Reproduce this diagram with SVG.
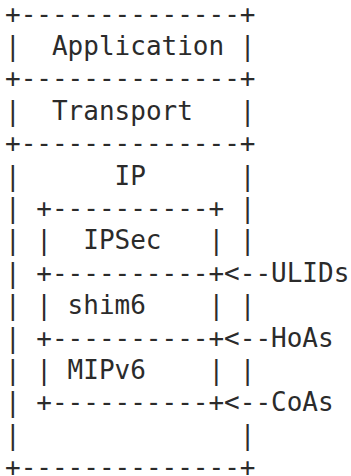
<svg xmlns="http://www.w3.org/2000/svg" width="351" height="476" viewBox="0 0 351 476" xml:space="preserve">
<style>
text { font-family: "DejaVu Sans Mono", "Liberation Mono", monospace; font-size: 26px; fill: #2b2b2b; white-space: pre; }
</style>
<rect width="351" height="476" fill="#ffffff"/>
<g id="application">
<text x="5" y="22.5">+--------------+</text>
<text x="5" y="54.9">|  Application |</text>
</g>
<g id="transport">
<text x="5" y="87.3">+--------------+</text>
<text x="5" y="119.7">|  Transport   |</text>
</g>
<g id="ip">
<text x="5" y="152.1">+--------------+</text>
<text x="5" y="184.5">|      IP      |</text>
<text x="5" y="216.9">|</text><text x="239.75" y="216.9">|</text>
<text x="5" y="249.3">|</text><text x="239.75" y="249.3">|</text>
<text x="5" y="281.7">|</text>
<text x="5" y="314.1">|</text><text x="239.75" y="314.1">|</text>
<text x="5" y="346.5">|</text>
<text x="5" y="378.9">|</text><text x="239.75" y="378.9">|</text>
<text x="5" y="411.3">|</text>
<text x="5" y="443.7">|              |</text>
<text x="5" y="476.1">+--------------+</text>
</g>
<g id="ipsec">
<text x="36.3" y="216.9">+----------+</text>
<text x="36.3" y="249.3">|  IPSec   |</text>
<text x="36.3" y="281.7">+----------+</text>
</g>
<g id="shim6">
<text x="36.3" y="314.1">| shim6    |</text>
<text x="36.3" y="346.5">+----------+</text>
</g>
<g id="mipv6">
<text x="36.3" y="378.9">| MIPv6    |</text>
<text x="36.3" y="411.3">+----------+</text>
</g>
<g id="connectors">
<text x="224.1" y="281.7">&lt;--ULIDs</text>
<text x="224.1" y="346.5">&lt;--HoAs</text>
<text x="224.1" y="411.3">&lt;--CoAs</text>
</g>
</svg>
